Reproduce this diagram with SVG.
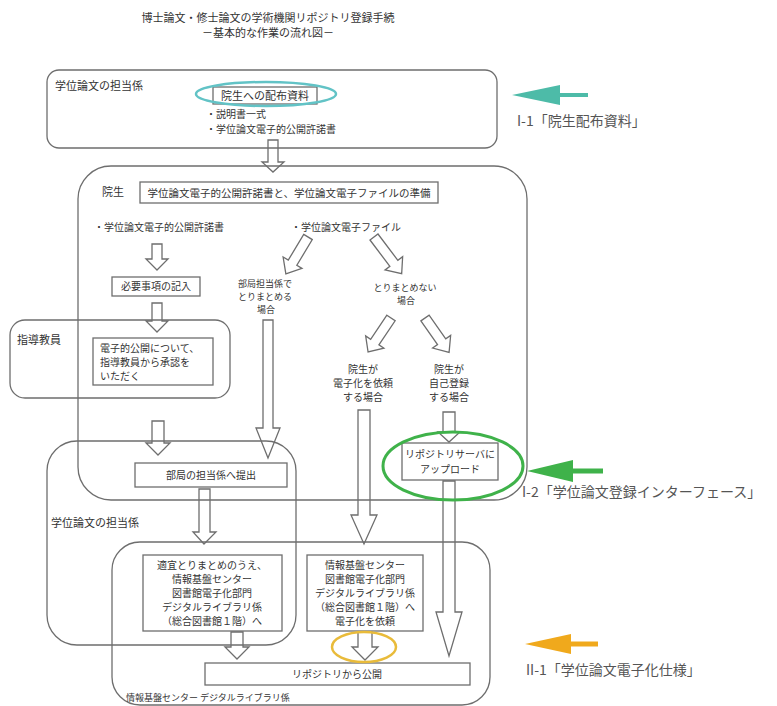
<svg xmlns="http://www.w3.org/2000/svg" width="777" height="706" viewBox="0 0 777 706">
<style>
.box{fill:none;stroke:#6e6e6e;stroke-width:1.3}
.tbox{fill:#fff;stroke:#6e6e6e;stroke-width:1.3}
.arr{fill:#fff;stroke:#6e6e6e;stroke-width:1.3;stroke-linejoin:miter}
.t{font-family:"Noto Sans CJK JP","Noto Sans CJK SC",sans-serif;font-size:10px;fill:#333}
.s{font-size:9px}
.h{font-size:11px}
.c{text-anchor:middle}
.lbl{font-family:"Noto Sans CJK JP",sans-serif;font-size:14px;fill:#555}
</style>
<rect width="777" height="706" fill="#fff"/>

<g id="title">
<text class="t h c" x="268" y="22">博士論文・修士論文の学術機関リポジトリ登録手続</text>
<text class="t h c" x="268" y="37">－基本的な作業の流れ図－</text>
</g>

<g id="connectors">
<path class="arr" d="M268,140 L278,140 L278,162 L284,162 L273,172 L262,162 L268,162 Z"/>
<path class="arr" d="M152,244 L162,244 L162,259 L168,259 L157,270 L146,259 L152,259 Z"/>
<path class="arr" d="M152,303 L162,303 L162,321 L168,321 L157,332 L146,321 L152,321 Z"/>
<path class="arr" d="M152,421 L164,421 L164,443 L170,443 L158,455 L146,443 L152,443 Z"/>
<path class="arr" d="M263,320 L273,320 L273,428 L280,428 L268,458 L256,428 L263,428 Z"/>
<path class="arr" d="M199,489 L210,489 L210,532 L216,532 L204,544 L193,532 L199,532 Z"/>
<path class="arr" d="M358,410 L370,410 L370,515 L377,515 L364,544 L351,515 L358,515 Z"/>
<path class="arr" d="M443,412 L455,412 L455,432 L460,432 L449,442 L438,432 L443,432 Z"/>
<path class="arr" d="M443,481 L455,481 L455,612 L462,612 L449,656 L436,612 L443,612 Z"/>
<path class="arr" d="M231,632 L243,632 L243,647 L249,647 L237,659 L225,647 L231,647 Z"/>
<path class="arr" d="M358,632 L372,632 L372,647 L378,647 L365,660 L352,647 L358,647 Z"/>
<path class="arr" transform="translate(308,237) rotate(31)" d="M-5,0 L5,0 L5,30 L11,30 L0,43 L-11,30 L-5,30 Z"/>
<path class="arr" transform="translate(374,237) rotate(-37)" d="M-5,0 L5,0 L5,33 L11,33 L0,46 L-11,33 L-5,33 Z"/>
<path class="arr" transform="translate(391,318) rotate(34)" d="M-5,0 L5,0 L5,29 L11,29 L0,41 L-11,29 L-5,29 Z"/>
<path class="arr" transform="translate(425,318) rotate(-35)" d="M-5,0 L5,0 L5,29 L11,29 L0,42 L-11,29 L-5,29 Z"/>
</g>

<g id="office-top">
<rect class="box" x="47" y="70" width="450" height="78" rx="12"/>
<text class="t h" x="55" y="90">学位論文の担当係</text>
<rect class="tbox" x="213" y="87" width="104" height="17"/>
<text class="t h c" x="265" y="100">院生への配布資料</text>
<text class="t" x="206" y="118">・説明書一式</text>
<text class="t" x="206" y="133">・学位論文電子的公開許諾書</text>
</g>

<g id="student">
<rect class="box" x="78" y="166" width="449" height="334" rx="33"/>
<text class="t h" x="102" y="196">院生</text>
<rect class="tbox" x="140" y="182" width="298" height="21"/>
<text class="t c" x="289" y="197" style="font-size:10.5px">学位論文電子的公開許諾書と、学位論文電子ファイルの準備</text>
<text class="t" x="94" y="231">・学位論文電子的公開許諾書</text>
<text class="t" x="291" y="231">・学位論文電子ファイル</text>
<rect class="tbox" x="112" y="277" width="88" height="19"/>
<text class="t c" x="156" y="290">必要事項の記入</text>
<text class="t s c" x="265" y="287">部局担当係で</text>
<text class="t s c" x="265" y="300">とりまとめる</text>
<text class="t s c" x="266" y="313">場合</text>
<text class="t s c" x="405" y="291">とりまとめない</text>
<text class="t s c" x="406" y="304">場合</text>
<text class="t c" x="363" y="373">院生が</text>
<text class="t c" x="363" y="387">電子化を依頼</text>
<text class="t c" x="363" y="401">する場合</text>
<text class="t c" x="449" y="373">院生が</text>
<text class="t c" x="449" y="387">自己登録</text>
<text class="t c" x="449" y="401">する場合</text>
<rect class="tbox" x="402" y="443" width="96" height="37"/>
<text class="t c" x="450" y="458">リポジトリサーバに</text>
<text class="t c" x="450" y="473">アップロード</text>
</g>

<g id="supervisor">
<rect class="box" x="10" y="320" width="220" height="78" rx="15"/>
<text class="t h" x="17" y="344">指導教員</text>
<rect class="tbox" x="93" y="338" width="120" height="47"/>
<text class="t" x="100" y="352">電子的公開について、</text>
<text class="t" x="100" y="366">指導教員から承認を</text>
<text class="t" x="100" y="380">いただく</text>
</g>

<g id="office-bottom">
<rect class="box" x="47" y="441" width="249" height="204" rx="30"/>
<rect class="tbox" x="135" y="463" width="152" height="24"/>
<text class="t c" x="211" y="479">部局の担当係へ提出</text>
<text class="t h" x="51" y="527">学位論文の担当係</text>
</g>

<g id="dl-section">
<rect class="box" x="112" y="542" width="378" height="163" rx="28"/>
<rect class="tbox" x="143" y="555" width="139" height="76"/>
<text class="t c" x="212" y="569">適宜とりまとめのうえ、</text>
<text class="t c" x="212" y="583">情報基盤センター</text>
<text class="t c" x="212" y="597">図書館電子化部門</text>
<text class="t c" x="212" y="611">デジタルライブラリ係</text>
<text class="t c" x="212" y="625">（総合図書館１階）へ</text>
<rect class="tbox" x="307" y="555" width="116" height="76"/>
<text class="t c" x="365" y="569">情報基盤センター</text>
<text class="t c" x="365" y="583">図書館電子化部門</text>
<text class="t c" x="365" y="597">デジタルライブラリ係</text>
<text class="t c" x="365" y="611">（総合図書館１階）へ</text>
<text class="t c" x="365" y="625">電子化を依頼</text>
<rect class="tbox" x="205" y="663" width="265" height="22"/>
<text class="t c" x="337" y="678">リポジトリから公開</text>
<text class="t s" x="126" y="701">情報基盤センター デジタルライブラリ係</text>
</g>

<g id="highlight-1">
<ellipse cx="266" cy="94" rx="70" ry="12" fill="none" stroke="#62c3c6" stroke-width="2.5"/>
<line x1="588" y1="95" x2="556" y2="95" stroke="#4dbba8" stroke-width="4"/>
<path d="M512,95 L560,85 L560,105 Z" fill="#4dbba8"/>
<text class="lbl" x="517" y="126">I-1「院生配布資料」</text>
</g>

<g id="highlight-2">
<ellipse cx="453" cy="466" rx="70" ry="34" fill="none" stroke="#3fb24a" stroke-width="3"/>
<line x1="603" y1="471" x2="568" y2="471" stroke="#3fb24a" stroke-width="5"/>
<path d="M527,471 L573,460 L573,482 Z" fill="#3fb24a"/>
<text class="lbl" x="522" y="497">I-2「学位論文登録インターフェース」</text>
</g>

<g id="highlight-3">
<ellipse cx="364" cy="647" rx="32" ry="15" fill="none" stroke="#e9bb3a" stroke-width="2.5"/>
<line x1="598" y1="644" x2="566" y2="644" stroke="#f0a91c" stroke-width="5"/>
<path d="M525,644 L571,634 L571,654 Z" fill="#f0a91c"/>
<text class="lbl" x="526" y="675">II-1「学位論文電子化仕様」</text>
</g>
</svg>
